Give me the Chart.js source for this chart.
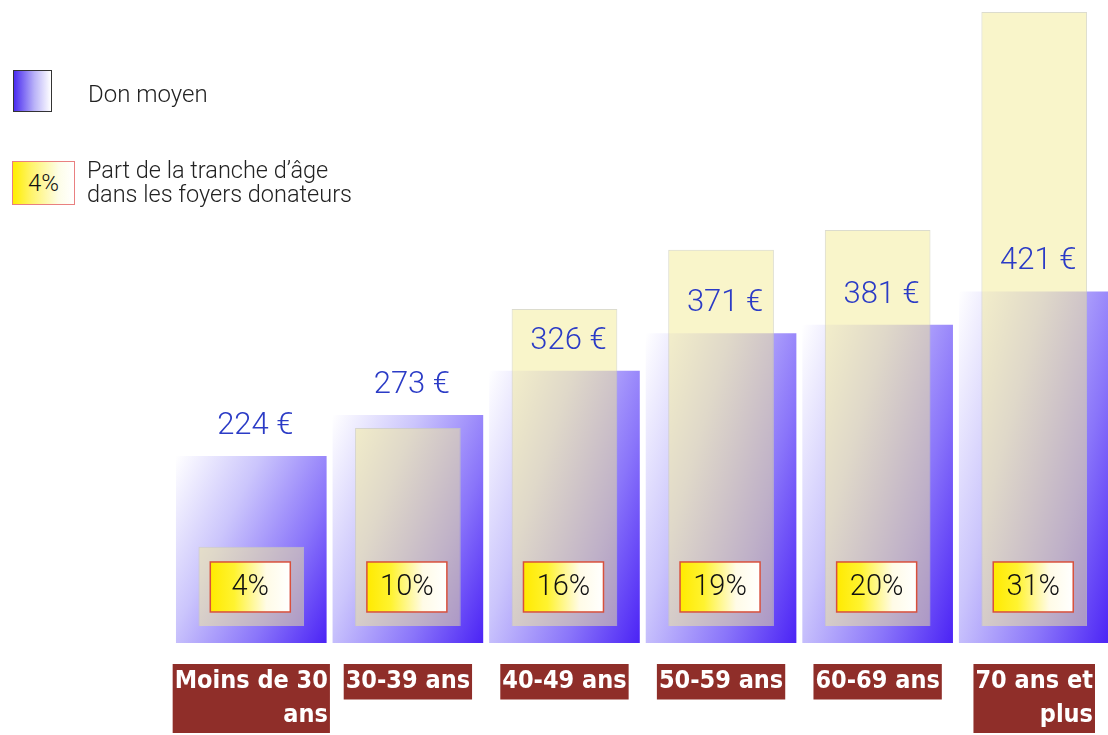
<!DOCTYPE html>
<html>
<head>
<meta charset="utf-8">
<script src="https://cdn.jsdelivr.net/npm/chart.js@4"></script>
<style>
  body { margin: 0; overflow: hidden; background: #fff; }
  #wrap { position: relative; width: 1115px; height: 735px; }
  .leg { position: absolute; font-family: Roboto, "Noto Sans", sans-serif; font-weight: 400; color: #222; }
  .ico1 { left: 13px; top: 70px; width: 37px; height: 40px; border: 1.5px solid #333;
          background: linear-gradient(to right, #4a2cf0, #b9b2f8 55%, #fff); }
  .ico2 { left: 12px; top: 161px; width: 61px; height: 42px; border: 1.5px solid #e98080;
          background: linear-gradient(to right, #ffee00 0%, #fff46a 30%, #fdfde8 75%, #fff);
          font-size: 24px; line-height: 42px; text-align: center; color: #111; font-weight: 300; }
</style>
</head>
<body>
<div id="wrap">
  <canvas id="myChart" width="1115" height="735"></canvas>
  <div class="leg ico1"></div>
  <div class="leg" style="left:88px;top:80px;font-size:24px;font-weight:300;">Don moyen</div>
  <div class="leg ico2">4%</div>
  <div class="leg" style="left:87px;top:158px;font-size:23.5px;line-height:24px;font-weight:300;">Part de la tranche d’âge<br>dans les foyers donateurs</div>
</div>
<script>
const categories = [['Moins de 30', 'ans'], '30-39 ans', '40-49 ans', '50-59 ans', '60-69 ans', ['70 ans et', 'plus']];
const donMoyen = [224, 273, 326, 371, 381, 421];
const partTranche = [4, 10, 16, 19, 20, 31];

const BLUE_PCT = 0.962;
const YELLOW_PCT = 0.675;
const TICK_SIZE = 25, TICK_LH = 1.34, TICK_PAD = 22;
const TICK_FAMILY = '"DejaVu Sans Condensed", "DejaVu Sans", sans-serif';

// gradient blanc en haut a gauche -> bleu en bas a droite, pour chaque barre
function blueFill(c) {
    const chart = c.chart;
    const area = chart.chartArea;
    if (!area || c.type !== 'data') return '#8070f0';
    const xs = chart.scales.x, ys = chart.scales.y;
    const bw = area.width / categories.length * BLUE_PCT;
    const cx = xs.getPixelForValue(c.dataIndex);
    const top = ys.getPixelForValue(c.raw);
    const base = ys.getPixelForValue(0);
    const left = cx - bw / 2;
    const h = Math.max(base - top, 1);
    const a = 0.62, b = 0.38;
    const lam = 1 / (a * a / (bw * bw) + b * b / (h * h));
    const g = chart.ctx.createLinearGradient(left, top, left + lam * a / bw, top + lam * b / h);
    g.addColorStop(0, '#ffffff');
    g.addColorStop(0.35, '#cbc5fc');
    g.addColorStop(0.7, '#8a75fa');
    g.addColorStop(1, '#4b23f5');
    return g;
}

// etiquettes de categories : fond rouge, 2e ligne alignee a droite
// (l'axe garde sa place, son texte est transparent)
const tickBoxes = {
    id: 'tickBoxes',
    afterDraw(chart) {
        const xs = chart.scales.x;
        const ctx = chart.ctx;
        const lh = TICK_SIZE * TICK_LH;
        ctx.save();
        ctx.font = 'bold ' + TICK_SIZE + 'px ' + TICK_FAMILY;
        ctx.textBaseline = 'middle';
        categories.forEach((lab, i) => {
            const lines = Array.isArray(lab) ? lab : [lab];
            const w = Math.max(...lines.map(l => ctx.measureText(l).width));
            const x = xs.getPixelForTick(i);
            const top = xs.top + TICK_PAD - 1;
            ctx.fillStyle = '#8f2e29';
            ctx.fillRect(x - w / 2 - 2, top, w + 4, lines.length * lh + 2);
            ctx.fillStyle = '#ffffff';
            lines.forEach((l, j) => {
                ctx.textAlign = j === 0 ? 'center' : 'right';
                ctx.fillText(l, j === 0 ? x : x + w / 2, top + 1 + lh * (j + 0.5));
            });
        });
        ctx.restore();
    }
};

const labelsPlugin = {
    id: 'valueLabels',
    afterDatasetsDraw(chart) {
        const ctx = chart.ctx;
        ctx.save();
        // montants au-dessus des barres bleues
        const blue = chart.getDatasetMeta(1);
        ctx.font = '300 31px Roboto, "Noto Sans", sans-serif';
        ctx.fillStyle = '#2b3bc6';
        ctx.textAlign = 'center';
        ctx.textBaseline = 'middle';
        blue.data.forEach((el, i) => {
            ctx.fillText(donMoyen[i] + ' €', el.x + 4, el.y - 30);
        });
        // pourcentages dans les cadres jaunes
        const yellow = chart.getDatasetMeta(0);
        yellow.data.forEach((el, i) => {
            const w = 80, h = 50;
            const x = el.x - w / 2 - 1, y = el.base - 64;
            const g = ctx.createLinearGradient(x, 0, x + w, 0);
            g.addColorStop(0, '#ffea00');
            g.addColorStop(0.3, '#fff330');
            g.addColorStop(0.7, '#fffbe6');
            g.addColorStop(1, '#ffffff');
            ctx.fillStyle = g;
            ctx.fillRect(x, y, w, h);
            ctx.strokeStyle = '#d8503c';
            ctx.lineWidth = 1.5;
            ctx.strokeRect(x, y, w, h);
            ctx.fillStyle = '#111';
            ctx.font = '300 29px Roboto, "Noto Sans", sans-serif';
            ctx.fillText(partTranche[i] + '%', x + w / 2, y + h / 2 + 1);
        });
        ctx.restore();
    }
};

const ctx = document.getElementById('myChart');
new Chart(ctx, {
    type: 'bar',
    data: {
        labels: categories,
        datasets: [{
            label: 'Part de la tranche d’âge dans les foyers donateurs',
            data: partTranche,
            yAxisID: 'y2',
            grouped: false,
            order: 1,
            barPercentage: YELLOW_PCT,
            categoryPercentage: 1,
            backgroundColor: 'rgba(243,236,150,0.5)',
            borderColor: 'rgba(205,205,185,0.7)',
            borderWidth: 1
        }, {
            label: 'Don moyen',
            data: donMoyen,
            yAxisID: 'y',
            grouped: false,
            order: 2,
            barPercentage: BLUE_PCT,
            categoryPercentage: 1,
            backgroundColor: blueFill,
            borderWidth: 0
        }]
    },
    options: {
        responsive: false,
        animation: false,
        layout: { padding: { left: 173, top: 0, right: 0, bottom: 0 } },
        plugins: {
            legend: { display: false },
            tooltip: { enabled: false }
        },
        scales: {
            x: {
                grid: { display: false, drawTicks: false },
                border: { display: false },
                ticks: {
                    color: 'rgba(0,0,0,0)',
                    font: { family: TICK_FAMILY, weight: 'bold', size: TICK_SIZE, lineHeight: TICK_LH },
                    padding: TICK_PAD,
                    maxRotation: 0,
                    autoSkip: false
                },
                afterFit(scale) { scale.height = 92; }
            },
            y: { display: false, min: 0, max: 770 },
            y2: { display: false, min: -0.86, max: 31.61 }
        }
    },
    plugins: [tickBoxes, labelsPlugin]
});
</script>
</body>
</html>
